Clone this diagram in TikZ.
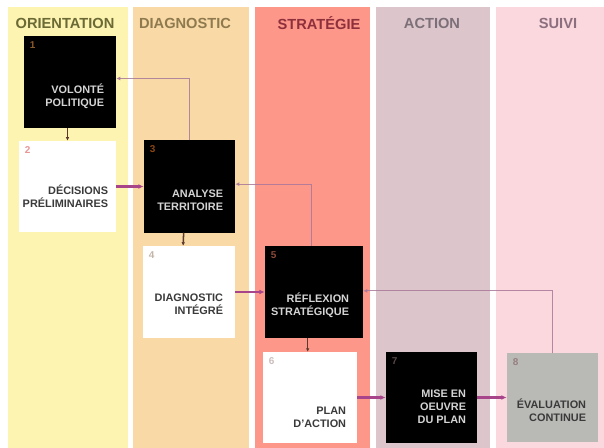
\documentclass[tikz,border=0pt]{standalone}
\usepackage{fontspec}
\setmainfont{Liberation Sans}
\usetikzlibrary{arrows.meta}
\definecolor{orientcol}{HTML}{FEF4B2}
\definecolor{diagcol}{HTML}{F9DAA6}
\definecolor{stratcol}{HTML}{FC978A}
\definecolor{actcol}{HTML}{DCC6CC}
\definecolor{suivicol}{HTML}{FAD8DE}
\definecolor{evalgris}{HTML}{B9B9B6}
\definecolor{flowcol}{HTML}{A8458A}
\definecolor{retourcol}{HTML}{A9789A}
\definecolor{liencol}{HTML}{5A3A2A}
\definecolor{txtclair}{HTML}{D4D4D4}
\definecolor{txtfonce}{HTML}{3A3A3A}
\begin{document}
\begin{tikzpicture}[x=0.03cm,y=-0.03cm,
  head/.style={font=\fontsize{12.5}{14}\selectfont\bfseries},
  box/.style={minimum width=2.76cm,minimum height=2.76cm,inner sep=0pt},
  noir/.style={box,fill=black},
  blanc/.style={box,fill=white},
  gris/.style={box,fill=evalgris},
  num/.style={font=\fontsize{8.5}{8.5}\selectfont\bfseries},
  lbl/.style={anchor=east,align=right,font=\fontsize{9.3}{11.3}\selectfont\bfseries},
  flow/.style={draw=flowcol,line width=1.8pt,-{Latex[length=4.5pt,width=4pt]}},
  retour/.style={draw=retourcol,draw opacity=0.85,line width=1.1pt,-{Latex[length=3.5pt,width=3.5pt]}},
  lien/.style={draw=liencol,line width=1.3pt,-{Latex[length=3pt,width=3pt]}}]
  \useasboundingbox[fill=white] (0,0) rectangle (604,448);
  \fill[orientcol] (8,7) rectangle (128,448);
  \fill[diagcol] (133,7) rectangle (249,448);
  \fill[stratcol] (255,7) rectangle (370,448);
  \fill[actcol] (376,7) rectangle (490,448);
  \fill[suivicol] (496,7) rectangle (604,448);
  \node[head,text={rgb,255:red,107;green,106;blue,53}] (h-orient) at (65,23) {ORIENTATION};
  \node[head,text={rgb,255:red,142;green,122;blue,78}] (h-diag) at (185,23) {DIAGNOSTIC};
  \node[head,text={rgb,255:red,142;green,47;blue,60}] (h-strat) at (319,23) {STRATÉGIE};
  \node[head,text={rgb,255:red,124;green,111;blue,120}] (h-action) at (432,23) {ACTION};
  \node[head,text={rgb,255:red,140;green,111;blue,126}] (h-suivi) at (558,23) {SUIVI};

  \node[noir] (volonte) at (70,82) {};
  \node[blanc,minimum width=2.91cm,minimum height=2.73cm] (decisions) at (67.5,186.5) {};
  \node[noir,minimum width=2.73cm] (analyse) at (189.5,186.5) {};
  \node[blanc] (diagnostic) at (189,292) {};
  \node[noir,minimum width=2.94cm] (reflexion) at (314,292) {};
  \node[blanc,minimum width=2.82cm,minimum height=2.73cm] (plan) at (310,397.5) {};
  \node[noir,minimum width=2.73cm,minimum height=2.73cm] (mise) at (431.5,397.5) {};
  \node[gris,minimum width=2.73cm,minimum height=2.64cm] (evaluation) at (552.5,397.5) {};

  \node[num,text={rgb,255:red,139;green,90;blue,43}] at ([shift={(9,9)}]volonte.north west) {1};
  \node[num,text={rgb,255:red,232;green,150;blue,150}] at ([shift={(9,9)}]decisions.north west) {2};
  \node[num,text={rgb,255:red,139;green,69;blue,19}] at ([shift={(9,9)}]analyse.north west) {3};
  \node[num,text={rgb,255:red,196;green,180;blue,168}] at ([shift={(9,9)}]diagnostic.north west) {4};
  \node[num,text={rgb,255:red,139;green,74;blue,58}] at ([shift={(9,9)}]reflexion.north west) {5};
  \node[num,text={rgb,255:red,204;green,188;blue,188}] at ([shift={(9,9)}]plan.north west) {6};
  \node[num,text={rgb,255:red,90;green,72;blue,72}] at ([shift={(9,9)}]mise.north west) {7};
  \node[num,text={rgb,255:red,150;green,128;blue,128}] at ([shift={(9,9)}]evaluation.north west) {8};

  \node[lbl,text=txtclair] at ([shift={(-8,14)}]volonte.east) {VOLONTÉ\\POLITIQUE};
  \node[lbl,text=txtfonce] at ([shift={(-4,10)}]decisions.east) {DÉCISIONS\\PRÉLIMINAIRES};
  \node[lbl,text=txtclair] at ([shift={(-8,14)}]analyse.east) {ANALYSE\\TERRITOIRE};
  \node[lbl,text=txtfonce] at ([shift={(-8,12)}]diagnostic.east) {DIAGNOSTIC\\INTÉGRÉ};
  \node[lbl,text=txtclair] at ([shift={(-10,13)}]reflexion.east) {RÉFLEXION\\STRATÉGIQUE};
  \node[lbl,text=txtfonce] at ([shift={(-7,20)}]plan.east) {PLAN\\D'ACTION};
  \node[lbl,text=txtclair] at ([shift={(-7,9)}]mise.east) {MISE EN\\OEUVRE\\DU PLAN};
  \node[lbl,text=txtfonce] at ([shift={(-8,13)}]evaluation.east) {ÉVALUATION\\CONTINUE};

  \draw[lien] (volonte.south -| decisions.north) -- (decisions.north);
  \draw[lien] ([xshift=-5pt]analyse.south) -- ([xshift=-5pt]diagnostic.north);
  \draw[lien] ([xshift=-2pt]plan.north |- reflexion.south) -- ([xshift=-2pt]plan.north);
  \draw[flow] (decisions) -- (analyse);
  \draw[flow] (diagnostic) -- (reflexion);
  \draw[flow] (plan) -- (mise);
  \draw[flow] (mise) -- (evaluation);
  \draw[retour] (analyse.north) |- ([yshift=3pt]volonte.east);
  \draw[retour] ([xshift=-2pt]reflexion.north) |- ([yshift=2pt]analyse.east);
  \draw[retour] (evaluation.north) |- ([yshift=1pt]reflexion.east);
\end{tikzpicture}
\end{document}
